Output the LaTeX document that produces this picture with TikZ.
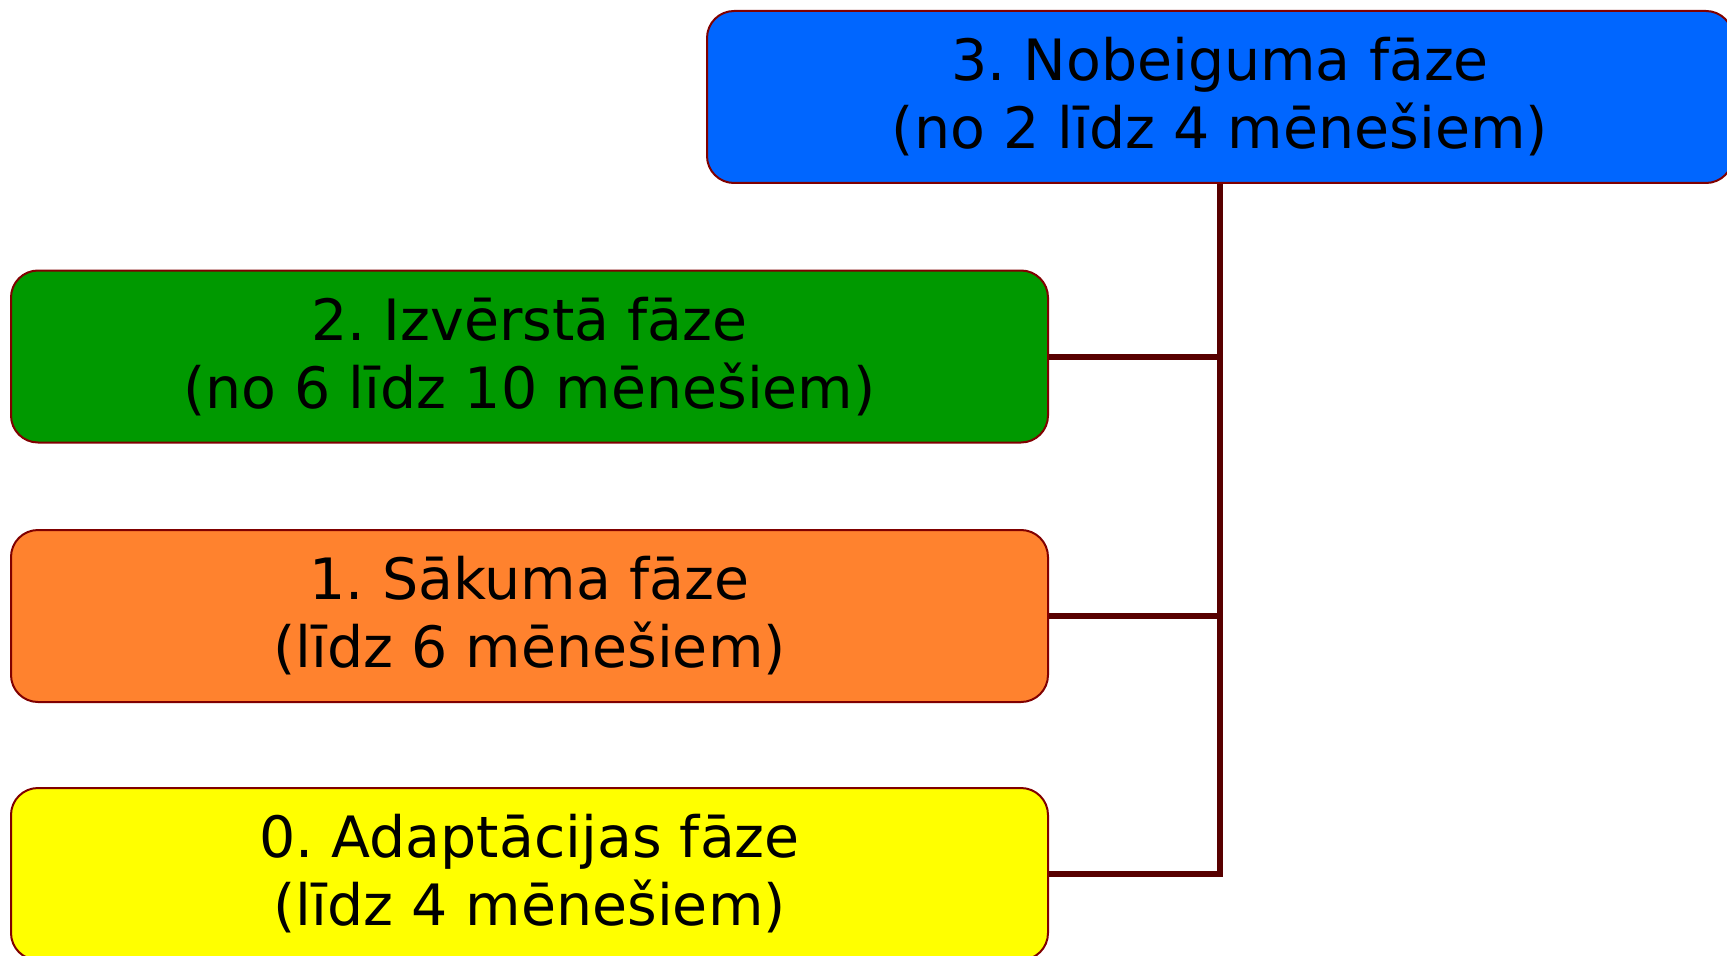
\documentclass[tikz,border=0pt]{standalone}
\usepackage{fontspec}
\setmainfont{DejaVu Sans}
\usepackage{xcolor}
\usetikzlibrary{positioning}
\frenchspacing

\definecolor{phaseblue}{RGB}{0,102,255}
\definecolor{phasegreen}{RGB}{0,153,0}
\definecolor{phaseorange}{RGB}{255,130,46}
\definecolor{phaseyellow}{RGB}{255,255,0}
\definecolor{phaseedge}{RGB}{128,0,0}
\definecolor{linkred}{RGB}{88,0,0}

\begin{document}
\begin{tikzpicture}[x=0.5pt, y=0.5pt,
    phase/.style={draw=phaseedge, line width=1pt, rounded corners=13.5pt,
        minimum height=86pt, inner sep=0pt, align=center,
        font=\fontsize{28.5}{34}\selectfont},
    link/.style={draw=linkred, line width=3pt}]
    \useasboundingbox (0,0) rectangle (1727,955);

    % Phase boxes
    \node[phase, fill=phaseblue, minimum width=513pt] (final) at (1220,858)
        {3. Nobeiguma fāze\\(no 2 līdz 4 mēnešiem)};
    \node[phase, fill=phasegreen, minimum width=518.5pt] (full) at (529.5,598.5)
        {2. Izvērstā fāze\\(no 6 līdz 10 mēnešiem)};
    \node[phase, fill=phaseorange, minimum width=518.5pt] (start) at (529.5,339)
        {1. Sākuma fāze\\(līdz 6 mēnešiem)};
    \node[phase, fill=phaseyellow, minimum width=518.5pt] (adapt) at (529.5,81)
        {0. Adaptācijas fāze\\(līdz 4 mēnešiem)};

    % Connecting bar
    \coordinate (bar) at (1220,0);
    \draw[link] (final.south -| bar) -- (adapt.east -| bar) -- (adapt.east);
    \draw[link] (full.east) -- (full.east -| bar);
    \draw[link] (start.east) -- (start.east -| bar);
\end{tikzpicture}
\end{document}
